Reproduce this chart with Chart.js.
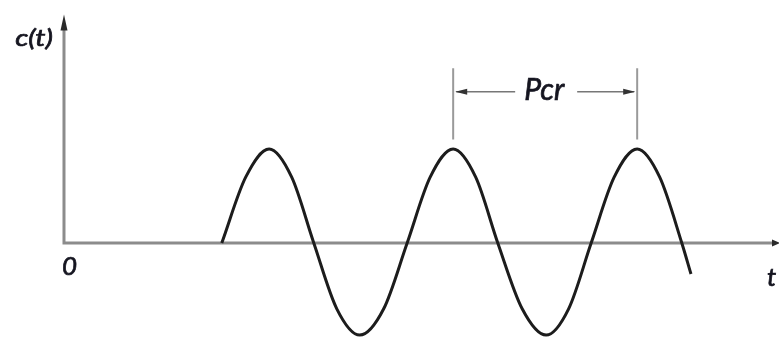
<!DOCTYPE html>
<html>
<head>
<meta charset="utf-8">
<script src="https://cdn.jsdelivr.net/npm/chart.js@4/dist/chart.umd.min.js"></script>
<style>
  html, body { margin: 0; padding: 0; background: #fff; }
  #wrap { width: 779px; height: 337px; }
</style>
</head>
<body>
<div id="wrap"><canvas id="oscChart" width="779" height="337"></canvas></div>
<script>
// time axis (one unit = quarter of Pcr) and response values
const tVals = [3.43, 3.95, 4.46, 4.95, 5.43, 5.93, 6.43, 6.95, 7.46, 7.96, 8.46,
               8.95, 9.43, 9.96, 10.48, 10.97, 11.46, 11.96, 12.46, 12.95, 13.43, 13.63];
const cVals = [0, 0.7, 1, 0.7, 0, -0.7, -0.98, -0.7, 0, 0.7, 1,
               0.7, 0, -0.7, -0.98, -0.7, 0, 0.7, 1, 0.7, 0, -0.33];
// period marker: between the 2nd and 3rd peaks
const pcrPeaks = [8.46, 12.46];
const axisLabels = { y: 'c(t)', x: 't', origin: '0', period: 'Pcr' };

const points = tVals.map((t, i) => ({ x: t, y: cVals[i] }));

function arrowHead(ctx, x, y, dir, len, half) {
    // dir: 'up' | 'right' | 'left'
    ctx.beginPath();
    if (dir === 'up') {
        ctx.moveTo(x, y); ctx.lineTo(x - half, y + len); ctx.lineTo(x + half, y + len);
    } else if (dir === 'right') {
        ctx.moveTo(x, y); ctx.lineTo(x - len, y - half); ctx.lineTo(x - len, y + half);
    } else {
        ctx.moveTo(x, y); ctx.lineTo(x + len, y - half); ctx.lineTo(x + len, y + half);
    }
    ctx.closePath();
    ctx.fill();
}

// fill + thin stroke so the italic labels look a little heavier
function boldText(ctx, txt, x, y) {
    ctx.fillText(txt, x, y);
    ctx.strokeText(txt, x, y);
}

// axes with arrows drawn under the curve
const axesPlugin = {
    id: 'axesPlugin',
    beforeDatasetsDraw(chart) {
        const { ctx, scales: { x, y } } = chart;
        const x0 = x.getPixelForValue(0), y0 = y.getPixelForValue(0);
        const yTop = y.getPixelForValue(2.43);
        const xEnd = x.getPixelForValue(15.5);
        ctx.save();
        ctx.strokeStyle = '#8c8c8c';
        ctx.lineWidth = 3;
        ctx.beginPath();
        ctx.moveTo(x0, y0); ctx.lineTo(x0, yTop + 10);
        ctx.moveTo(x0 - 1.5, y0); ctx.lineTo(xEnd - 4, y0);
        ctx.stroke();
        ctx.fillStyle = '#2a2a2a';
        arrowHead(ctx, x0, yTop, 'up', 16, 3.5);
        arrowHead(ctx, xEnd + 3, y0, 'right', 8, 3.5);

        // Pcr dimension lines
        const pA = x.getPixelForValue(pcrPeaks[0]), pB = x.getPixelForValue(pcrPeaks[1]);
        const yHi = y.getPixelForValue(1.86), yLo = y.getPixelForValue(1.10);
        const yArr = y.getPixelForValue(1.61);
        ctx.strokeStyle = '#9a9a9a';
        ctx.lineWidth = 2;
        ctx.beginPath();
        ctx.moveTo(pA, yHi); ctx.lineTo(pA, yLo);
        ctx.moveTo(pB, yHi); ctx.lineTo(pB, yLo);
        ctx.stroke();
        ctx.strokeStyle = '#777';
        ctx.lineWidth = 1.5;
        ctx.beginPath();
        ctx.moveTo(pA + 3, yArr); ctx.lineTo(pA + 62, yArr);
        ctx.moveTo(pB - 60, yArr); ctx.lineTo(pB - 3, yArr);
        ctx.stroke();
        ctx.fillStyle = '#333';
        arrowHead(ctx, pA + 2, yArr, 'left', 12, 3);
        arrowHead(ctx, pB - 2, yArr, 'right', 12, 3);
        ctx.restore();
    },
    afterDatasetsDraw(chart) {
        const { ctx, scales: { x, y } } = chart;
        const x0 = x.getPixelForValue(0), y0 = y.getPixelForValue(0);
        ctx.save();
        ctx.fillStyle = '#151520';
        ctx.strokeStyle = '#151520';
        ctx.lineWidth = 0.7;
        ctx.textBaseline = 'alphabetic';

        // y label is drawn a bit wide, like in the original
        ctx.save();
        ctx.font = 'italic 24px Lato, "Open Sans", sans-serif';
        ctx.textAlign = 'right';
        ctx.translate(x0 - 11, 46);
        ctx.scale(1.2, 1);
        boldText(ctx, axisLabels.y, 0, 0);
        ctx.restore();

        ctx.font = 'italic 26px Lato, "Open Sans", sans-serif';
        ctx.textAlign = 'left';
        boldText(ctx, axisLabels.origin, x0 - 2, y0 + 32);
        boldText(ctx, axisLabels.x, x.getPixelForValue(15.28), y0 + 43);

        ctx.font = 'italic 30px Lato, "Open Sans", sans-serif';
        ctx.textAlign = 'center';
        const mid = (x.getPixelForValue(pcrPeaks[0]) + x.getPixelForValue(pcrPeaks[1])) / 2;
        boldText(ctx, axisLabels.period, mid - 1, y.getPixelForValue(1.61) + 8);
        ctx.restore();
    }
};

new Chart(document.getElementById('oscChart'), {
    type: 'scatter',
    data: {
        datasets: [{
            data: points,
            showLine: true,
            borderColor: '#1c1c1c',
            borderWidth: 3,
            pointRadius: 0,
            cubicInterpolationMode: 'monotone',
            clip: false
        }]
    },
    options: {
        responsive: false,
        animation: false,
        layout: { padding: 0 },
        scales: {
            x: { type: 'linear', min: -1.391, max: 15.543, display: false },
            y: { type: 'linear', min: -1.0, max: 2.585, display: false }
        },
        plugins: {
            legend: { display: false },
            tooltip: { enabled: false }
        }
    },
    plugins: [axesPlugin]
});
</script>
</body>
</html>
